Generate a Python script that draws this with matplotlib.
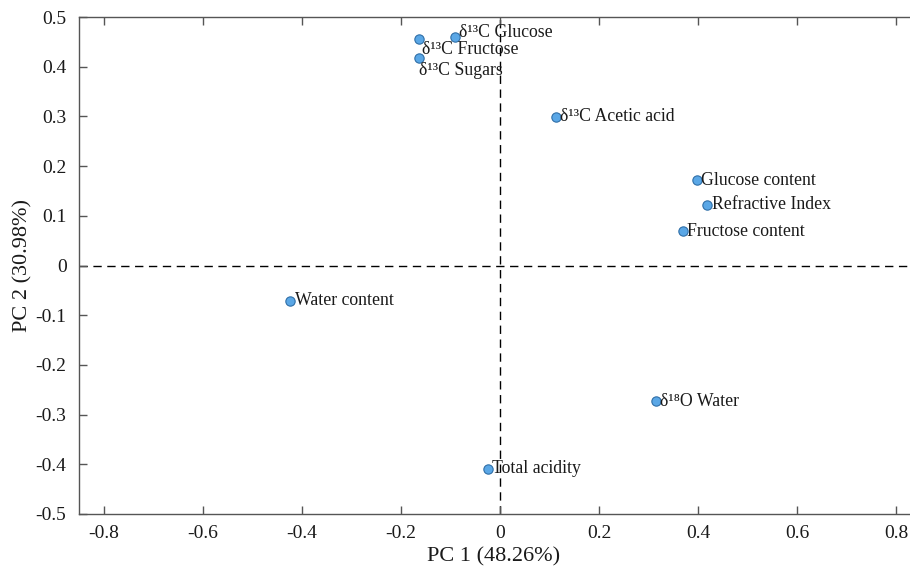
import matplotlib
matplotlib.use("Agg")
import matplotlib.pyplot as plt

plt.rcParams['font.family'] = ['Liberation Serif', 'DejaVu Serif']

names = ["δ¹³C Glucose", "δ¹³C Fructose", "δ¹³C Sugars", "δ¹³C Acetic acid",
         "Glucose content", "Refractive Index", "Fructose content",
         "Water content", "δ¹⁸O Water", "Total acidity"]
pc1 = [-0.091, -0.163, -0.163, 0.113, 0.397, 0.419, 0.369, -0.423, 0.315, -0.024]
pc2 = [0.460, 0.456, 0.418, 0.299, 0.172, 0.122, 0.069, -0.071, -0.273, -0.409]
# label offsets in points (dx, dy)
offsets = [(3, 3), (2, -7.5), (0, -9), (3, 0), (3, 0), (3, 0), (3, 0), (3, 0), (3, 0), (3, 0)]

xticks = [-0.8, -0.6, -0.4, -0.2, 0, 0.2, 0.4, 0.6, 0.8]
yticks = [-0.5, -0.4, -0.3, -0.2, -0.1, 0, 0.1, 0.2, 0.3, 0.4, 0.5]

fig = plt.figure(figsize=(9.1, 5.7), dpi=100)
ax = fig.add_axes([79/910, 1 - 514/570, (909 - 79)/910, (514 - 17)/570])

ax.axhline(0, color='black', lw=1.0, ls=(0, (6, 4)), zorder=1)
ax.axvline(0, color='black', lw=1.0, ls=(0, (6, 4)), zorder=1)

ax.scatter(pc1, pc2, s=45, c='#5aa7e6', edgecolors='#2f6fa8', linewidths=0.8, zorder=3)
for n, x, y, (dx, dy) in zip(names, pc1, pc2, offsets):
    ax.annotate(n, (x, y), xytext=(dx, dy), textcoords='offset points',
                ha='left', va='center', fontsize=12.8, color='#1a1a1a', zorder=4)

ax.set_xlim(-0.85, 0.826)
ax.set_ylim(-0.5, 0.5)
ax.set_xticks(xticks)
ax.set_yticks(yticks)
ax.set_xticklabels([f"{t:g}" for t in xticks])
ax.set_yticklabels([f"{t:g}" for t in yticks])
ax.tick_params(direction='in', length=5.5, width=1, color='#555555', labelsize=14,
               labelcolor='#1a1a1a', top=True, right=False)
ax.tick_params(axis='x', pad=8)
ax.tick_params(axis='y', pad=9)
for s in ['left', 'bottom', 'top']:
    ax.spines[s].set_color('#555555')
    ax.spines[s].set_linewidth(1.0)
ax.spines['right'].set_visible(False)

ax.set_xlabel("PC 1 (48.26%)", fontsize=16, color='#1a1a1a', labelpad=4)
ax.set_ylabel("PC 2 (30.98%)", fontsize=16, color='#1a1a1a', labelpad=2)

fig.savefig("out.png", dpi=100)
